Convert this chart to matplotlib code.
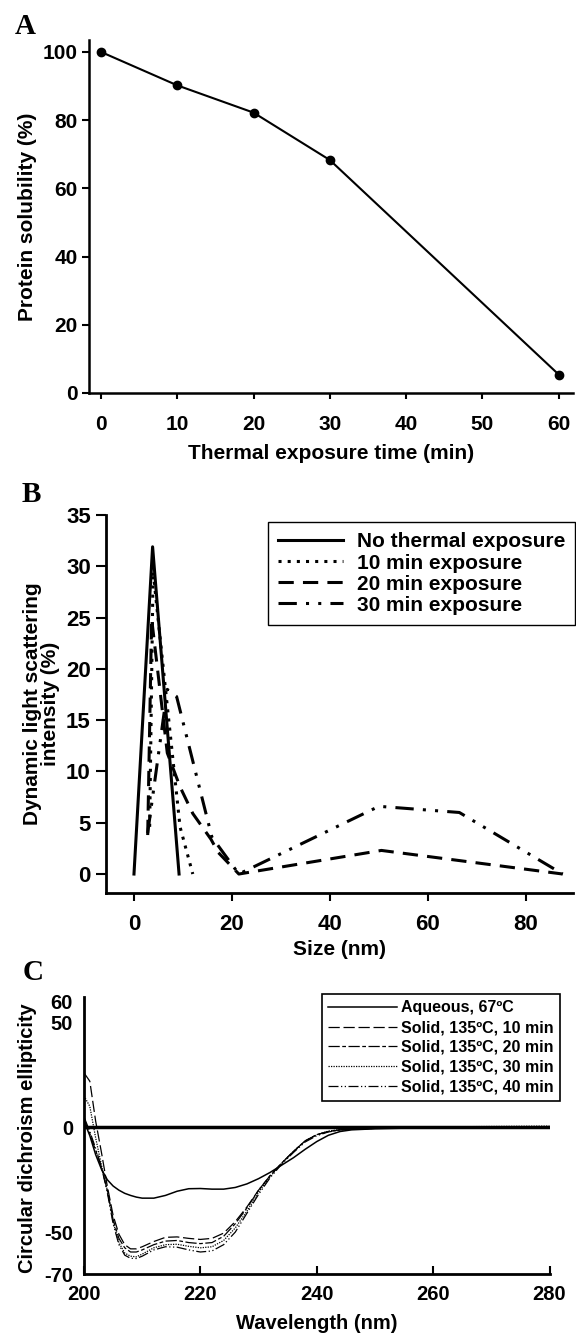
import matplotlib
matplotlib.use("Agg")
import matplotlib.pyplot as plt

plt.rcParams['font.family'] = ['Liberation Sans', 'DejaVu Sans']
plt.rcParams['font.weight'] = 'bold'
plt.rcParams['axes.labelweight'] = 'bold'
plt.rcParams['axes.unicode_minus'] = False

# ---- panel A: solubility after heating
time_min = [0, 10, 20, 30, 60]
solubility = [100.0, 90.2, 82.2, 68.3, 5.4]

# ---- panel B: DLS size distributions
size_none = [0, 3.8, 9.2]
dls_none = [0, 31.9, 0]
size_10 = [3.2, 3.9, 9.4, 12.0]
dls_10 = [4.6, 29.5, 4.6, 0]
size_20 = [2.8, 3.6, 6.8, 9.4, 12.0, 15.7, 17.2, 21.4, 50.5, 87.5]
dls_20 = [3.8, 24.9, 11.8, 8.5, 5.9, 3.4, 2.1, 0, 2.3, 0]
size_30 = [2.8, 6.8, 8.7, 15.9, 21.4, 50.0, 66.4, 87.5]
dls_30 = [4.0, 18.0, 17.3, 3.6, 0, 6.6, 6.0, 0]
dls_labels = ['No thermal exposure', '10 min exposure',
              '20 min exposure', '30 min exposure']

# ---- panel C: CD spectra
wavelength = [200, 201, 202, 203, 204, 205, 206, 207, 208, 209, 210, 212,
              214, 216, 218, 220, 222, 224, 226, 228, 230, 232, 234, 236,
              238, 240, 242, 244, 246, 250, 255, 260, 270, 280]
cd_aqueous = [3, -4, -13, -20, -25, -28, -30, -31.5, -32.5, -33.3, -33.8,
              -33.8, -32.5, -30.5, -29.3, -29.2, -29.5, -29.5, -28.7, -27,
              -24.5, -21.5, -18, -14.5, -10.5, -6.8, -3.8, -2.0, -1.2, -0.7,
              -0.4, -0.2, -0.1, 0]
cd_10 = [26, 22, 3, -12, -28, -42, -51, -56, -58, -58, -57, -54.5, -52.5,
         -52.3, -53, -53.5, -53, -50.5, -45, -38, -30, -23, -17, -11.5, -6.5,
         -3.5, -2.0, -1.2, -0.8, -0.5, -0.3, -0.2, -0.1, 0]
cd_20 = [4, -3, -11, -19, -30, -44, -53, -57.5, -59.5, -59.5, -58.5, -56,
         -54.3, -54, -55, -55.5, -55, -52, -46, -38.5, -30, -23, -17, -11.5,
         -6.5, -3.5, -2.0, -1.2, -0.8, -0.5, -0.3, -0.2, -0.1, 0]
cd_30 = [15, 10, -5, -18, -30, -45, -55, -60, -61.5, -61.8, -60.5, -57.5,
         -56, -55.8, -56.8, -57.5, -57, -54, -48, -40, -31, -23.5, -17, -11.5,
         -6.5, -3.5, -1.8, -1.0, -0.6, -0.3, -0.1, 0.2, 0.4, 0.6]
cd_40 = [5, -2, -10, -19, -31, -46, -56, -61, -62.5, -62.6, -61.5, -58.5,
         -57, -57.2, -58.5, -59.5, -59, -56, -50, -41, -32, -24, -17.5, -12,
         -7, -4, -2.2, -1.3, -0.8, -0.5, -0.3, -0.1, 0, 0.2]
cd_labels = ['Aqueous, 67ºC', 'Solid, 135ºC, 10 min', 'Solid, 135ºC, 20 min',
             'Solid, 135ºC, 30 min', 'Solid, 135ºC, 40 min']

W, H = 576, 1336
fig = plt.figure(figsize=(W / 100, H / 100), dpi=100)


def box(l, r, b, t):
    return [l / W, 1 - b / H, (r - l) / W, (b - t) / H]


def style(ax, lw=1.8):
    for s in ('top', 'right'):
        ax.spines[s].set_visible(False)
    for s in ('left', 'bottom'):
        ax.spines[s].set_linewidth(lw)


letter = dict(fontfamily='Liberation Serif', fontweight='bold', fontsize=21,
              ha='center', va='center')

# ----- A
ax = fig.add_axes(box(89, 572.5, 393, 40))
ax.plot(time_min, solubility, color='black', lw=1.5, marker='o', ms=6)
ax.set_xlim(-1.57, 61.8)
ax.set_ylim(0, 103.5)
ax.set_xticks(range(0, 61, 10))
ax.set_yticks(range(0, 101, 20))
style(ax)
ax.tick_params(axis='y', length=5, width=1.5, pad=3, labelsize=15)
ax.tick_params(axis='x', length=4, width=1.5, pad=12, labelsize=15)
ax.set_xlabel('Thermal exposure time (min)', fontsize=15, labelpad=7)
ax.set_ylabel('Protein solubility (%)', fontsize=15, labelpad=4)
fig.text(25 / W, 1 - 26 / H, 'A', **letter)

# ----- B
ax = fig.add_axes(box(106, 573, 893, 515))
ax.plot(size_none, dls_none, color='black', lw=2.2, label=dls_labels[0])
ax.plot(size_10, dls_10, color='black', lw=2.2, ls=(0, (1, 2)),
        label=dls_labels[1])
ax.plot(size_20, dls_20, color='black', lw=2.2, ls=(0, (5, 3)),
        label=dls_labels[2])
ax.plot(size_30, dls_30, color='black', lw=2.2, ls=(0, (6, 3, 1, 3, 1, 3)),
        label=dls_labels[3])
ax.set_xlim(-5.71, 89.6)
ax.set_ylim(-1.85, 35)
ax.set_xticks(range(0, 81, 20))
ax.set_yticks(range(0, 36, 5))
style(ax, 2.0)
ax.tick_params(axis='y', length=7, width=1.5, pad=4, labelsize=16)
ax.tick_params(axis='x', length=6, width=1.5, pad=9, labelsize=16)
ax.set_xlabel('Size (nm)', fontsize=15, labelpad=4)
ax.set_ylabel('Dynamic light scattering\nintensity (%)', fontsize=15,
              labelpad=4, linespacing=0.95)
leg = ax.legend(loc='upper left', bbox_to_anchor=(268 / W, 1 - 522 / H),
                bbox_transform=fig.transFigure, borderaxespad=0, fontsize=15,
                handlelength=3.1, handletextpad=0.65, labelspacing=0.1,
                borderpad=0.5, fancybox=False, edgecolor='black',
                framealpha=1)
leg.get_frame().set_linewidth(1.0)
fig.text(31 / W, 1 - 494 / H, 'B', **letter)

# ----- C
ax = fig.add_axes(box(84, 549.5, 1274, 997))
ax.axhline(0, color='black', lw=2.5)
ax.plot(wavelength, cd_aqueous, color='black', lw=1.1, label=cd_labels[0])
ax.plot(wavelength, cd_10, color='black', lw=0.9, ls=(0, (9, 3)),
        label=cd_labels[1])
ax.plot(wavelength, cd_20, color='black', lw=0.9, ls=(0, (9, 2, 3, 2)),
        label=cd_labels[2])
ax.plot(wavelength, cd_30, color='black', lw=0.9, ls=(0, (1, 1)),
        label=cd_labels[3])
ax.plot(wavelength, cd_40, color='black', lw=0.9, ls=(0, (8, 2, 1, 2, 1, 2)),
        label=cd_labels[4])
ax.set_xlim(200, 280)
ax.set_ylim(-70, 62.2)
ax.set_xticks(range(200, 281, 20))
ax.set_yticks([-70, -50, 0, 50, 60])
style(ax, 2.0)
ax.tick_params(axis='y', length=0, pad=8, labelsize=14.5)
ax.tick_params(axis='x', direction='in', length=6, width=1.5, pad=8,
               labelsize=14.5)
ax.set_xlabel('Wavelength (nm)', fontsize=14.5, labelpad=7)
ax.set_ylabel('Circular dichroism ellipticity', fontsize=14.5)
ax.yaxis.set_label_coords(-0.10, 0.49)
leg = ax.legend(loc='upper left', bbox_to_anchor=(322 / W, 1 - 994 / H),
                bbox_transform=fig.transFigure, borderaxespad=0,
                fontsize=11.5, handlelength=4.3, handletextpad=0.25,
                labelspacing=0.3, borderpad=0.4, fancybox=False,
                edgecolor='black', framealpha=1)
leg.get_frame().set_linewidth(1.2)
fig.text(33 / W, 1 - 973 / H, 'C', **letter)

fig.savefig('out.png', dpi=100)
